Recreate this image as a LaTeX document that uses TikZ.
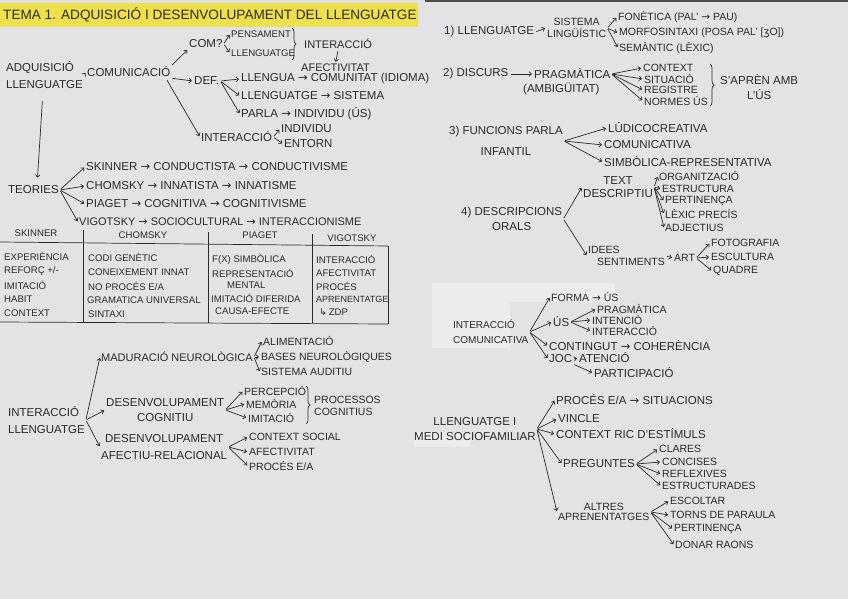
\documentclass[tikz,border=0pt]{standalone}
\usepackage{fontspec}
\setmainfont{Liberation Sans}
\newfontfamily\symfont{DejaVu Sans}
\usetikzlibrary{arrows.meta,decorations.pathreplacing,calc}
\definecolor{paper}{HTML}{E3E3E5}
\definecolor{patch}{HTML}{ECECED}
\definecolor{ink}{HTML}{2A2A2A}
\definecolor{hl}{HTML}{EEE04C}
\newcommand{\ra}{{\symfont →}}
\begin{document}
\begin{tikzpicture}[x=1pt,y=-1pt,
  t/.style={anchor=west,inner sep=1pt,text=ink,font=\fontsize{11.5}{13.5}\selectfont},
  tm/.style={t,font=\fontsize{11}{13}\selectfont},
  ts/.style={t,font=\fontsize{10.5}{11.5}\selectfont},
  tt/.style={t,font=\fontsize{9.6}{11}\selectfont},
  arr/.style={draw=ink,line width=0.7pt,-{Straight Barb[length=2.5pt,width=4.5pt]},shorten >=1pt,shorten <=1pt},
  ln/.style={draw=ink,line width=0.7pt},
  brc/.style={draw=ink,line width=0.7pt,decorate,decoration={brace,amplitude=4pt}},
]
\fill[paper] (0,0) rectangle (848,599);
\useasboundingbox (0,0) rectangle (848,599);
\fill[black!70] (425,0) rectangle (848,2.5);
\fill[patch] (432,283) rectangle (615,302);
\fill[patch] (432,302) rectangle (510,348);
\fill[patch] (414,432) rectangle (470,447);
\fill[hl] (0,3) rectangle (418,27);

% title
\node[t,font=\fontsize{13.6}{15}\selectfont] (title) at (2,15) {TEMA 1. ADQUISICIÓ I DESENVOLUPAMENT DEL LLENGUATGE};

% ---- top left
\node[t,align=left] (adq) at (5,75) {ADQUISICIÓ\\[4pt]LLENGUATGE};
\node[t] (com) at (86,72) {COMUNICACIÓ};
\node[t] (comq) at (188,44) {COM?};
\node[tt] (pens) at (230,34) {PENSAMENT};
\node[tt] (llg2) at (230,53) {LLENGUATGE};
\node[tm] (inter1) at (303,44) {INTERACCIÓ};
\node[tm] (afec1) at (300,68) {AFECTIVITAT};
\node[t] (def) at (193,81) {DEF.};
\node[t] (llengua) at (240,79) {LLENGUA \ra{} COMUNITAT (IDIOMA)};
\node[t] (llg3) at (240,96) {LLENGUATGE \ra{} SISTEMA};
\node[t] (parla) at (240,114) {PARLA \ra{} INDIVIDU (ÚS)};
\node[t] (inter2) at (200,137) {INTERACCIÓ};
\node[t] (indiv) at (280,129) {INDIVIDU};
\node[t] (entorn) at (283,144) {ENTORN};

\draw[arr] (adq.east) -- (com.west);
\draw[arr] (com.north east) -- (comq.south west);
\draw[arr] (comq.east) -- (pens.west);
\draw[arr] (comq.east) -- (llg2.west);
\draw[brc] (292,28) -- (292,60);
\draw[arr] (inter1.south) -- (afec1.north);
\draw[arr] (com.south east) -- (def.west);
\draw[arr] (def.east) -- (llengua.west);
\draw[arr] (def.east) -- (llg3.west);
\draw[arr] (def.east) -- (parla.west);
\draw[arr] ($(com.south east)+(-5,1)$) -- (inter2.west);
\draw[arr] (inter2.east) -- (indiv.west);
\draw[arr] (inter2.east) -- (entorn.west);

% ---- teories
\node[t] (teo) at (7,190) {TEORIES};
\node[t] (sk) at (85,167) {SKINNER \ra{} CONDUCTISTA \ra{} CONDUCTIVISME};
\node[t] (ch) at (85,186) {CHOMSKY \ra{} INNATISTA \ra{} INNATISME};
\node[t] (pi) at (85,204) {PIAGET \ra{} COGNITIVA \ra{} COGNITIVISME};
\node[tm] (vi) at (78,222) {VIGOTSKY \ra{} SOCIOCULTURAL \ra{} INTERACCIONISME};
\draw[arr] ($(adq.south)+(-2,10)$) -- ($(teo.north)+(4,-6)$);
\draw[arr] (teo.east) -- (sk.west);
\draw[arr] (teo.east) -- (ch.west);
\draw[arr] (teo.east) -- (pi.west);
\draw[arr] (teo.east) -- (vi.west);

% ---- table
\draw[ln] (0,242) -- (388,246);
\draw[ln] (0,322) -- (388,324);
\draw[ln] (83,230) -- (83,322);
\draw[ln] (208,232) -- (208,323);
\draw[ln] (312,234) -- (312,323);
\draw[ln] (388,246) -- (388,324);
\node[tt,anchor=center] (hsk) at (36,233) {SKINNER};
\node[tt,anchor=center] (hch) at (143,235) {CHOMSKY};
\node[tt,anchor=center] (hpi) at (260,235) {PIAGET};
\node[tt,anchor=center] (hvi) at (352,238) {VIGOTSKY};
\node[tt] (a1) at (3,256) {EXPERIÈNCIA};
\node[tt] (a2) at (3,271) {REFORÇ +/-};
\node[tt] (a3) at (3,285) {IMITACIÓ};
\node[tt] (a4) at (3,299) {HABIT};
\node[tt] (a5) at (3,313) {CONTEXT};
\node[tt] (b1) at (87,257) {CODI GENÈTIC};
\node[tt] (b2) at (87,272) {CONEIXEMENT INNAT};
\node[tt] (b3) at (87,286) {NO PROCÉS E/A};
\node[tt] (b4) at (86,300) {GRAMATICA UNIVERSAL};
\node[tt] (b5) at (87,314) {SINTAXI};
\node[tt] (c1) at (211,259) {F(X) SIMBÒLICA};
\node[tt] (c2) at (211,273) {REPRESENTACIÓ};
\node[tt] (c3) at (226,285) {MENTAL};
\node[tt] (c4) at (210,298) {IMITACIÓ DIFERIDA};
\node[tt] (c5) at (214,311) {CAUSA-EFECTE};
\node[tt] (d1) at (315,259) {INTERACCIÓ};
\node[tt] (d2) at (315,273) {AFECTIVITAT};
\node[tt] (d3) at (315,286) {PROCÉS};
\node[tt,font=\fontsize{9}{10}\selectfont] (d4) at (315,299) {APRENENTATGE};
\node[tt] (d5) at (318,312) {{\symfont ↳}\,ZDP};

% ---- interaccio llenguatge
\node[t,align=left] (il) at (7,420) {INTERACCIÓ\\[3pt]LLENGUATGE};
\node[tm] (mad) at (100,357) {MADURACIÓ NEUROLÒGICA};
\node[ts] (ali) at (262,341) {ALIMENTACIÓ};
\node[ts] (bas) at (260,357) {BASES NEUROLÒGIQUES};
\node[ts] (sis) at (260,372) {SISTEMA AUDITIU};
\node[t,align=center] (dcog) at (105,410) {DESENVOLUPAMENT\\[1pt]COGNITIU};
\node[ts] (per) at (243,391) {PERCEPCIÓ};
\node[ts] (mem) at (245,404) {MEMÒRIA};
\node[ts] (imi) at (247,418) {IMITACIÓ};
\node[ts,align=left] (proc) at (313,406) {PROCESSOS\\COGNITIUS};
\node[t,align=center] (dafec) at (100,447) {DESENVOLUPAMENT\\[3pt]AFECTIU-RELACIONAL};
\node[ts] (csoc) at (248,437) {CONTEXT SOCIAL};
\node[ts] (afec2) at (248,452) {AFECTIVITAT};
\node[ts] (pea) at (248,466) {PROCÉS E/A};
\draw[arr] (il.east) -- (mad.west);
\draw[arr] (il.east) -- (dcog.west);
\draw[arr] (il.east) -- (dafec.west);
\draw[arr] (mad.east) -- (ali.west);
\draw[arr] (mad.east) -- (bas.west);
\draw[arr] (mad.east) -- (sis.west);
\draw[arr] (dcog.east) -- (per.west);
\draw[arr] (dcog.east) -- (mem.west);
\draw[arr] (dcog.east) -- (imi.west);
\draw[brc] (306,386) -- (306,424);
\draw[arr] (dafec.east) -- (csoc.west);
\draw[arr] (dafec.east) -- (afec2.west);
\draw[arr] (dafec.east) -- (pea.west);

% ---- right: 1)
\node[t] (l1) at (443,32) {1) LLENGUATGE};
\node[ts,align=center] (sl) at (546,28) {SISTEMA\\LINGÜÍSTIC};
\node[ts] (fon) at (617,17) {FONÈTICA (PAL' \ra{} PAU)};
\node[ts] (mor) at (618,33) {MORFOSINTAXI (POSA PAL' [{\symfont ʒ}O])};
\node[ts] (sem) at (618,48) {SEMÀNTIC (LÈXIC)};
\draw[arr] (l1.east) -- (sl.west);
\draw[arr] (sl.east) -- (fon.west);
\draw[arr] (sl.east) -- (mor.west);
\draw[arr] (sl.east) -- (sem.west);

% ---- 2)
\node[t] (l2) at (442,74) {2) DISCURS};
\node[t] (prag) at (533,74) {PRAGMÀTICA};
\node[t] (amb) at (522,89) {(AMBIGÜITAT)};
\node[ts] (ctx) at (642,68) {CONTEXT};
\node[ts] (sit) at (643,79) {SITUACIÓ};
\node[ts] (reg) at (643,90) {REGISTRE};
\node[ts] (nor) at (643,101) {NORMES ÚS};
\node[t,align=center] (apr) at (719,87) {S'APRÈN AMB\\[1pt]L'ÚS};
\draw[arr] (l2.east) -- (prag.west);
\draw[arr] (prag.east) -- (ctx.west);
\draw[arr] (prag.east) -- (sit.west);
\draw[arr] (prag.east) -- (reg.west);
\draw[arr] (prag.east) -- (nor.west);
\draw[brc] (710,64) -- (710,106);

% ---- 3)
\node[t,align=center] (l3) at (448,141) {3) FUNCIONS PARLA\\[8pt]INFANTIL};
\node[t] (lud) at (607,128) {LÚDICOCREATIVA};
\node[t] (comv) at (603,145) {COMUNICATIVA};
\node[t] (simb) at (603,162) {SIMBÒLICA-REPRESENTATIVA};
\draw[arr] (l3.east) -- (lud.west);
\draw[arr] (l3.east) -- (comv.west);
\draw[arr] (l3.east) -- (simb.west);

% ---- 4)
\node[t,align=center] (l4) at (460,219) {4) DESCRIPCIONS\\[1pt]ORALS};
\node[t,align=center] (td) at (582,187) {TEXT\\[0pt]DESCRIPTIU};
\node[ts] (org) at (658,176) {ORGANITZACIÓ};
\node[ts] (est) at (661,189) {ESTRUCTURA};
\node[ts] (pert) at (664,201) {PERTINENÇA};
\node[ts] (lex) at (664,214) {LÈXIC PRECÍS};
\node[ts] (adj) at (664,228) {ADJECTIUS};
\node[ts,align=left] (ids) at (587,256) {IDEES\\\hspace*{9pt}SENTIMENTS};
\node[ts] (art) at (673,258) {ART};
\node[ts] (foto) at (710,243) {FOTOGRAFIA};
\node[ts] (escu) at (710,257) {ESCULTURA};
\node[ts] (quad) at (712,271) {QUADRE};
\draw[arr] (l4.east) -- (td.west);
\draw[arr] (l4.east) -- (ids.west);
\draw[arr] (td.east) -- (org.west);
\draw[arr] (td.east) -- (est.west);
\draw[arr] (td.east) -- (pert.west);
\draw[arr] (td.east) -- (lex.west);
\draw[arr] (td.east) -- (adj.west);
\draw[arr] (ids.east) -- (art.west);
\draw[arr] (art.east) -- (foto.west);
\draw[arr] (art.east) -- (escu.west);
\draw[arr] (art.east) -- (quad.west);

% ---- interaccio comunicativa
\node[t,align=left,font=\fontsize{10}{12}\selectfont] (ic) at (452,332) {INTERACCIÓ\\[3pt]COMUNICATIVA};
\node[ts] (forma) at (550,297) {FORMA \ra{} ÚS};
\node[t] (us) at (552,322) {ÚS};
\node[ts] (pragm) at (596,309) {PRAGMÀTICA};
\node[ts] (int1) at (591,320) {INTENCIÓ};
\node[ts] (int2) at (591,331) {INTERACCIÓ};
\node[t] (cont) at (548,346) {CONTINGUT \ra{} COHERÈNCIA};
\node[t] (joc) at (548,359) {JOC};
\node[t] (aten) at (578,358) {ATENCIÓ};
\node[t] (part) at (593,373) {PARTICIPACIÓ};
\draw[arr] (ic.east) -- (forma.west);
\draw[arr] (ic.east) -- (us.west);
\draw[arr] (ic.east) -- (cont.west);
\draw[arr] (ic.east) -- (joc.west);
\draw[arr] (us.east) -- (pragm.west);
\draw[arr] (us.east) -- (int1.west);
\draw[arr] (us.east) -- (int2.west);
\draw[arr] (joc.east) -- (aten.west);
\draw[arr] (joc.south east) -- (part.west);

% ---- llenguatge i medi
\node[t,align=center] (lm) at (413,429) {LLENGUATGE I\\[2pt]MEDI SOCIOFAMILIAR};
\node[t] (pea2) at (555,400) {PROCÉS E/A \ra{} SITUACIONS};
\node[t] (vin) at (557,419) {VINCLE};
\node[t] (crd) at (555,434) {CONTEXT RIC D'ESTÍMULS};
\node[t] (preg) at (562,464) {PREGUNTES};
\node[ts,align=center] (alt) at (557,512) {ALTRES\\[-1pt]APRENENTATGES};
\node[ts] (cla) at (658,449) {CLARES};
\node[ts] (conc) at (661,462) {CONCISES};
\node[ts] (refl) at (661,474) {REFLEXIVES};
\node[ts] (estr) at (661,486) {ESTRUCTURADES};
\node[ts] (esc) at (669,501) {ESCOLTAR};
\node[ts] (torn) at (669,515) {TORNS DE PARAULA};
\node[ts] (pert2) at (673,529) {PERTINENÇA};
\node[ts] (don) at (674,545) {DONAR RAONS};
\draw[arr] (lm.east) -- (pea2.west);
\draw[arr] (lm.east) -- (vin.west);
\draw[arr] (lm.east) -- (crd.west);
\draw[arr] (lm.east) -- (preg.west);
\draw[arr] (lm.east) -- (alt.west);
\draw[arr] (preg.east) -- (cla.west);
\draw[arr] (preg.east) -- (conc.west);
\draw[arr] (preg.east) -- (refl.west);
\draw[arr] (preg.east) -- (estr.west);
\draw[arr] (alt.east) -- (esc.west);
\draw[arr] (alt.east) -- (torn.west);
\draw[arr] (alt.east) -- (pert2.west);
\draw[arr] (alt.east) -- (don.west);
\end{tikzpicture}
\end{document}
